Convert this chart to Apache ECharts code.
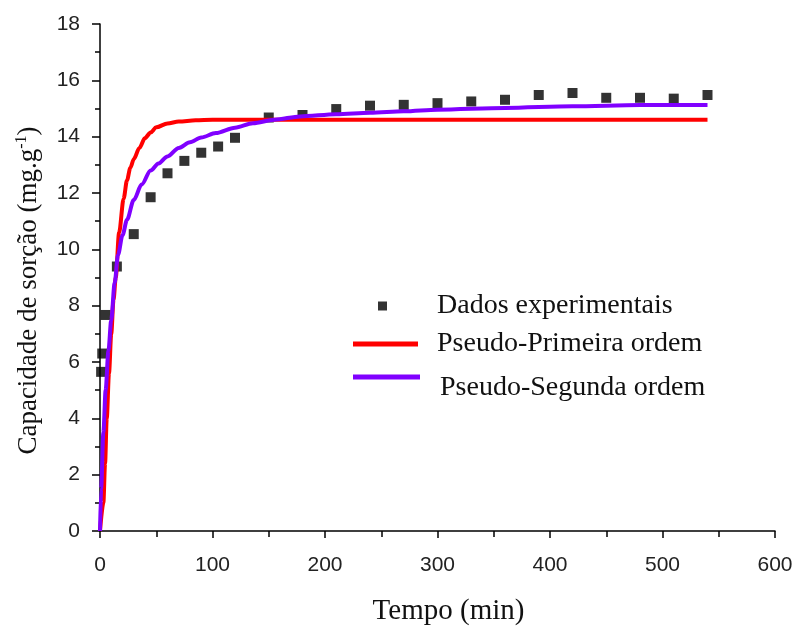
<!DOCTYPE html>
<html>
<head>
<meta charset="utf-8">
<script src="https://cdn.jsdelivr.net/npm/echarts@6/dist/echarts.min.js"></script>
<style>
  html, body { margin: 0; padding: 0; background: #fff; }
  #chart { width: 793px; height: 627px; }
</style>
</head>
<body>
<div id="chart"></div>
<script>
  // dados
  const expTime = [1, 2, 5, 15, 30, 45, 60, 75, 90, 105, 120, 150, 180, 210, 240, 270, 300, 330, 360, 390, 420, 450, 480, 510, 540]
  const expQ = [5.65, 6.3, 7.67, 9.39, 10.54, 11.85, 12.7, 13.14, 13.43, 13.65, 13.96, 14.68, 14.77, 14.98, 15.1, 15.13, 15.19, 15.25, 15.31, 15.48, 15.55, 15.38, 15.38, 15.35, 15.48]

  const pfoTime = [0, 3, 4.5, 6, 8, 10, 12, 14, 17, 21, 24, 27, 30, 35, 40, 45, 50, 60, 70, 85, 100, 200, 300, 400, 540]
  const pfoQ = [0, 1.0, 2.4, 4.0, 5.6, 7.0, 8.2, 9.0, 10.6, 11.8, 12.45, 12.9, 13.2, 13.6, 13.95, 14.15, 14.33, 14.47, 14.54, 14.58, 14.6, 14.6, 14.6, 14.6, 14.6]

  const psoTime = [0, 1, 3, 5, 7.5, 10, 13, 16, 20, 24, 30, 37, 45, 52, 60, 70, 80, 90, 103, 120, 136, 155, 178, 210, 240, 270, 300, 360, 420, 480, 540]
  const psoQ = [0, 1.5, 3.5, 5.0, 6.4, 7.5, 8.8, 9.8, 10.5, 11.05, 11.75, 12.3, 12.8, 13.05, 13.3, 13.6, 13.8, 13.97, 14.13, 14.32, 14.48, 14.6, 14.72, 14.8, 14.85, 14.9, 14.96, 15.02, 15.08, 15.12, 15.12]

  const names = ['Dados experimentais', 'Pseudo-Primeira ordem', 'Pseudo-Segunda ordem']

  const zip = (xs, ys) => xs.map((x, i) => [x, ys[i]])

  const chart = echarts.init(document.getElementById('chart'))

  const serif = 'Liberation Serif, Times New Roman, serif'
  const sans = 'Liberation Sans, Arial, sans-serif'

  const legendText = {
    fontFamily: serif,
    fontSize: 28,
    color: '#111',
  }

  const option = {
    animation: false,
    grid: { left: 100, right: 18, top: 24, bottom: 96, outerBoundsMode: 'none' },
    legend: [
      {
        data: [names[0]],
        left: 378,
        top: 292,
        padding: 0,
        icon: 'rect',
        itemWidth: 9,
        itemHeight: 9,
        textStyle: Object.assign({ padding: [0, 0, 0, 45] }, legendText),
      },
      {
        data: [names[1]],
        left: 353,
        top: 330,
        padding: 0,
        icon: 'rect',
        itemWidth: 65,
        itemHeight: 5,
        textStyle: Object.assign({ padding: [0, 0, 0, 14] }, legendText),
      },
      {
        data: [names[2]],
        left: 353,
        top: 374,
        padding: 0,
        icon: 'rect',
        itemWidth: 67,
        itemHeight: 5,
        formatter: '{t|{name}}',
        textStyle: {
          rich: {
            t: Object.assign({ padding: [22, 0, 0, 15] }, legendText),
          },
        },
      },
    ],
    xAxis: {
      type: 'value',
      min: 0,
      max: 600,
      interval: 100,
      name: 'Tempo (min)',
      nameLocation: 'middle',
      nameGap: 66,
      nameTextStyle: { fontFamily: serif, fontSize: 29, color: '#111', padding: [0, 0, 0, 22] },
      axisLine: { show: true, lineStyle: { color: '#000', width: 1.5 } },
      axisTick: { show: true, length: 7, lineStyle: { color: '#000', width: 1.5 } },
      minorTick: { show: true, splitNumber: 2, length: 6, lineStyle: { color: '#000', width: 1.5 } },
      splitLine: { show: false },
      axisLabel: { fontFamily: sans, fontSize: 21, color: '#222', margin: 24 },
    },
    yAxis: {
      type: 'value',
      min: 0,
      max: 18,
      interval: 2,
      name: 'Capacidade de sorção (mg.g{sup|-1})',
      nameLocation: 'middle',
      nameGap: 57,
      nameTextStyle: {
        fontFamily: serif,
        fontSize: 27,
        color: '#111',
        padding: [0, 26, 0, 0],
        rich: {
          sup: { fontFamily: serif, fontSize: 16, color: '#111', padding: [0, 0, 13, 0] },
        },
      },
      axisLine: { show: true, lineStyle: { color: '#000', width: 1.5 } },
      axisTick: { show: true, length: 8, lineStyle: { color: '#000', width: 1.5 } },
      minorTick: { show: true, splitNumber: 2, length: 5, lineStyle: { color: '#000', width: 1.5 } },
      splitLine: { show: false },
      axisLabel: { fontFamily: sans, fontSize: 21, color: '#222', margin: 20 },
    },
    series: [
      {
        name: names[0],
        type: 'scatter',
        symbol: 'rect',
        symbolSize: 10,
        itemStyle: { color: '#000' },
        data: zip(expTime, expQ),
        z: 1,
      },
      {
        name: names[1],
        type: 'line',
        showSymbol: false,
        symbol: 'none',
        smooth: 0.3,
        smoothMonotone: 'x',
        color: '#ff0000',
        lineStyle: { width: 4, color: '#ff0000' },
        data: zip(pfoTime, pfoQ),
        z: 2,
      },
      {
        name: names[2],
        type: 'line',
        showSymbol: false,
        symbol: 'none',
        smooth: 0.3,
        smoothMonotone: 'x',
        color: '#8000ff',
        lineStyle: { width: 4, color: '#8000ff' },
        data: zip(psoTime, psoQ),
        z: 3,
      },
    ],
  }

  chart.setOption(option)
</script>
</body>
</html>
